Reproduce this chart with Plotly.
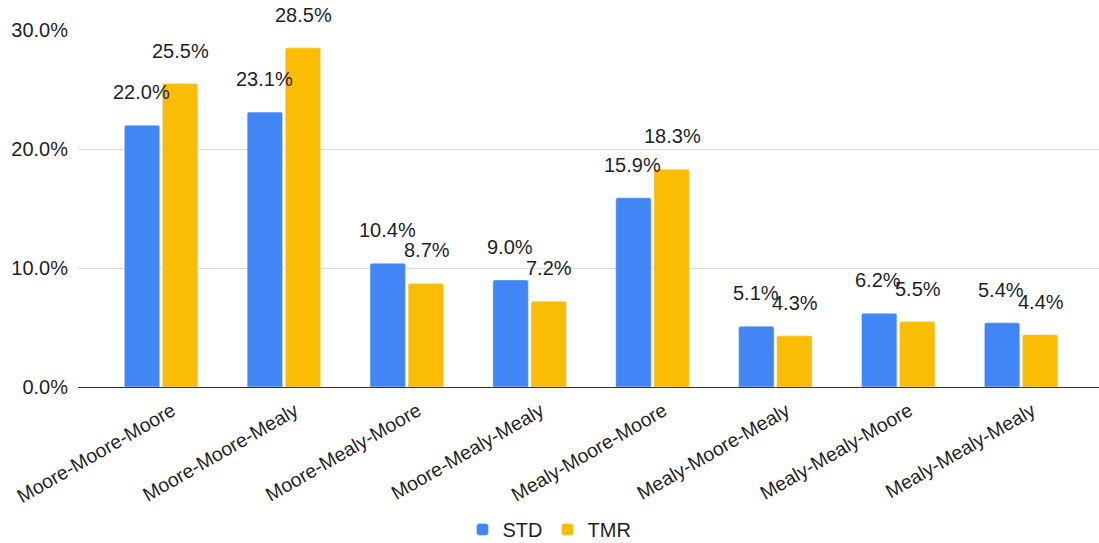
import plotly.graph_objects as go

categories = ["Moore-Moore-Moore", "Moore-Moore-Mealy", "Moore-Mealy-Moore", "Moore-Mealy-Mealy",
              "Mealy-Moore-Moore", "Mealy-Moore-Mealy", "Mealy-Mealy-Moore", "Mealy-Mealy-Mealy"]
std_values = [22.0, 23.1, 10.4, 9.0, 15.9, 5.1, 6.2, 5.4]
tmr_values = [25.5, 28.5, 8.7, 7.2, 18.3, 4.3, 5.5, 4.4]
y_ticks = [0, 10, 20, 30]
y_tick_labels = ["0.0%", "10.0%", "20.0%", "30.0%"]

BLUE = "#4285F4"
YELLOW = "#FBBC04"
FONT = "Liberation Sans, Arial, sans-serif"
TXT = "#1f1f1f"
FS = 20

fig = go.Figure()
fig.add_trace(go.Bar(name="STD", x=categories, y=std_values, marker=dict(color=BLUE, cornerradius=2)))
fig.add_trace(go.Bar(name="TMR", x=categories, y=tmr_values, marker=dict(color=YELLOW, cornerradius=2)))

off = 0.161
for i, (s, t) in enumerate(zip(std_values, tmr_values)):
    fig.add_annotation(x=i - off, y=s, text=f"{s:.1f}%", showarrow=False, yshift=33,
                       xanchor="center", yanchor="middle", font=dict(size=FS, color=TXT, family=FONT))
    fig.add_annotation(x=i + off, y=t, text=f"{t:.1f}%", showarrow=False, yshift=33,
                       xanchor="center", yanchor="middle", font=dict(size=FS, color=TXT, family=FONT))

fig.update_layout(
    width=1099, height=543,
    margin=dict(l=78, r=0, t=30, b=156, autoexpand=False),
    paper_bgcolor="white", plot_bgcolor="white",
    barmode="group", bargap=0.38, bargroupgap=0.07,
    font=dict(family=FONT, size=FS, color=TXT),
    showlegend=True,
    legend=dict(orientation="h", xref="container", yref="container", x=0.5, y=0.025,
                xanchor="center", yanchor="middle", font=dict(size=FS, color=TXT)),
    xaxis=dict(type="category", range=[-0.676, 7.634], tickangle=-30, showgrid=False, automargin=False,
               ticks="", ticklabelstandoff=8, ticklabelshift=11, tickfont=dict(size=19.5, color=TXT)),
    yaxis=dict(range=[0, 30], tickvals=y_ticks, ticktext=y_tick_labels, showgrid=True, automargin=False,
               gridcolor="#D9D9D9", gridwidth=1, zeroline=True, zerolinecolor="#333333", zerolinewidth=1,
               ticks="", ticklabelstandoff=9, tickfont=dict(size=FS, color=TXT)),
)

fig.write_html("out.html", config={"displayModeBar": False},
               post_script="document.body.style.margin='0px';document.body.style.overflow='hidden';")
